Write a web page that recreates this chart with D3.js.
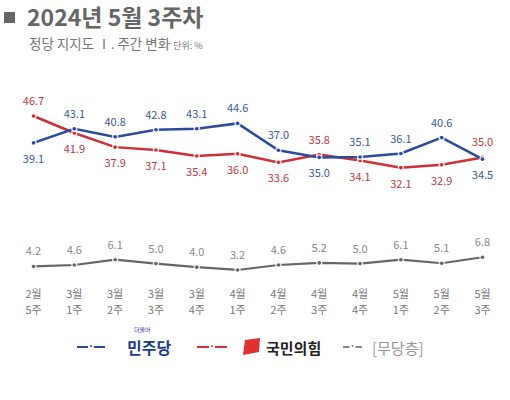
<!DOCTYPE html>
<html>
<head>
<meta charset="utf-8">
<script src="https://cdn.jsdelivr.net/npm/d3@7"></script>
<style>
  body { margin: 0; background: #fff; }
  svg { font-family: "Noto Sans CJK KR", "Noto Sans", sans-serif; }
</style>
</head>
<body>
<div id="chart"></div>
<script>
// weekly party support, %
var weeks = ["2월|5주", "3월|1주", "3월|2주", "3월|3주", "3월|4주", "4월|1주",
             "4월|2주", "4월|3주", "4월|4주", "5월|1주", "5월|2주", "5월|3주"];
var minjoo = [39.1, 43.1, 40.8, 42.8, 43.1, 44.6, 37.0, 35.0, 35.1, 36.1, 40.6, 34.5];
var ppp    = [46.7, 41.9, 37.9, 37.1, 35.4, 36.0, 33.6, 35.8, 34.1, 32.1, 32.9, 35.0];
var indep  = [4.2, 4.6, 6.1, 5.0, 4.0, 3.2, 4.6, 5.2, 5.0, 6.1, 5.1, 6.8];

// label above (-1) or below (+1) the point
var minjooPos = [1, -1, -1, -1, -1, -1, -1, 1, -1, -1, -1, 1];
var pppPos    = [-1, 1, 1, 1, 1, 1, 1, -1, 1, 1, 1, -1];

var W = 510, H = 400;

var svg = d3.select("#chart").append("svg")
      .attr("width", W)
      .attr("height", H);

var x = d3.scalePoint()
      .domain(weeks)
      .range([33.5, 482.5]);

var y = d3.scaleLinear()
      .domain([0, 50])
      .range([281.3, 104.3]);

/* title */
svg.append("rect")
  .attr("x", 4).attr("y", 12)
  .attr("width", 11).attr("height", 11)
  .style("fill", "#666");

svg.append("text")
  .attr("x", 27).attr("y", 26)
  .style("font-size", "23px")
  .style("font-weight", "bold")
  .style("fill", "#666")
  .text("2024년 5월 3주차");

var sub = svg.append("text")
  .attr("x", 29).attr("y", 49)
  .style("font-size", "13.5px")
  .style("fill", "#777");
sub.append("tspan").text("정당 지지도  Ⅰ. 주간 변화 ");
sub.append("tspan").style("font-size", "9px").text("단위: %");

function draw_series(values, color, labelColor, pos, width) {
  var line = d3.line()
        .x(function(d, i) { return x(weeks[i]); })
        .y(function(d) { return y(d); });

  svg.append("path")
    .datum(values)
    .attr("d", line)
    .style("fill", "none")
    .style("stroke", color)
    .style("stroke-width", width);

  svg.selectAll(null)
    .data(values)
    .enter().append("circle")
    .attr("cx", function(d, i) { return x(weeks[i]); })
    .attr("cy", y)
    .attr("r", 3.2)
    .style("fill", "#fff")
    .style("opacity", 0.8);

  svg.selectAll(null)
    .data(values)
    .enter().append("circle")
    .attr("cx", function(d, i) { return x(weeks[i]); })
    .attr("cy", y)
    .attr("r", 1.8)
    .style("fill", color);

  svg.selectAll(null)
    .data(values)
    .enter().append("text")
    .attr("x", function(d, i) { return x(weeks[i]); })
    .attr("y", function(d, i) { return y(d) + (pos[i] < 0 ? -11 : 20); })
    .attr("text-anchor", "middle")
    .style("font-size", "11px")
    .style("fill", labelColor)
    .text(function(d) { return d.toFixed(1); });
}

draw_series(indep, "#666", "#888", indep.map(function() { return -1; }), 2.2);
draw_series(ppp, "#cc3038", "#c0393f", pppPos, 2.5);
draw_series(minjoo, "#2b4c9c", "#3b5a98", minjooPos, 2.5);

/* x labels, two lines */
var xl = svg.selectAll(".xlabel")
  .data(weeks)
  .enter().append("text")
  .attr("class", "xlabel")
  .attr("text-anchor", "middle")
  .style("font-size", "11px")
  .style("fill", "#777");
xl.append("tspan")
  .attr("x", x).attr("y", 298)
  .text(function(d) { return d.split("|")[0]; });
xl.append("tspan")
  .attr("x", x).attr("y", 314)
  .text(function(d) { return d.split("|")[1]; });

/* legend */
var legend = [
  {name: "민주당", color: "#2b4c9c", text: "#1d3d94", x1: 77, x2: 105, tx: 127, size: 16, weight: "bold"},
  {name: "국민의힘", color: "#cc3038", text: "#222", x1: 197, x2: 227, tx: 266, size: 15, weight: "bold"},
  {name: "[무당층]", color: "#888", text: "#999", x1: 343, x2: 362, tx: 372, size: 15, weight: "normal"}
];

legend.forEach(function(l) {
  var mid = (l.x1 + l.x2) / 2;
  svg.append("line")
    .attr("x1", l.x1).attr("x2", mid - 3)
    .attr("y1", 347).attr("y2", 347)
    .style("stroke", l.color).style("stroke-width", 2);
  svg.append("line")
    .attr("x1", mid + 3).attr("x2", l.x2)
    .attr("y1", 347).attr("y2", 347)
    .style("stroke", l.color).style("stroke-width", 2);
  svg.append("circle")
    .attr("cx", mid).attr("cy", 346)
    .attr("r", 1)
    .style("fill", l.color);
  svg.append("text")
    .attr("x", l.tx).attr("y", 354)
    .style("font-size", l.size + "px")
    .style("font-weight", l.weight)
    .style("fill", l.text)
    .text(l.name);
});

// small "더불어" over the 민주당 logo text
svg.append("text")
  .attr("x", 134).attr("y", 332)
  .style("font-size", "6px")
  .style("fill", "#1d3d94")
  .text("더불어");

// red mark of 국민의힘
svg.append("path")
  .attr("d", "M245,340 L260,338 L259,352 L243,355 Z")
  .style("fill", "#e03030");
</script>
</body>
</html>
